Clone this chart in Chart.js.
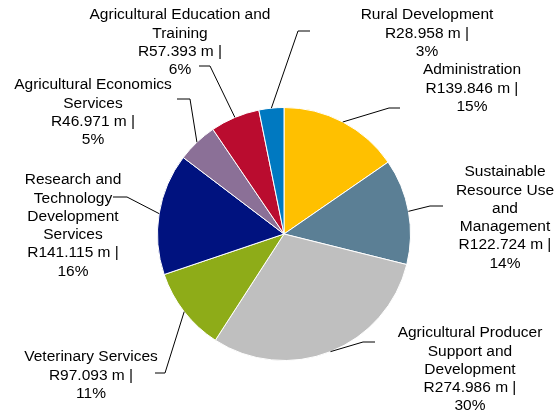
<!DOCTYPE html>
<html>
<head>
<meta charset="utf-8">
<script src="https://cdn.jsdelivr.net/npm/chart.js@4"></script>
<style>
  html, body { margin: 0; padding: 0; background: #fff; }
  #wrap { width: 560px; height: 414px; }
</style>
</head>
<body>
<div id="wrap"><canvas id="pieChart"></canvas></div>
<script>
// Programmes (label lines as shown in the picture)
const programmes = [
    ['Administration'],
    ['Sustainable', 'Resource Use', 'and', 'Management'],
    ['Agricultural Producer', 'Support and', 'Development'],
    ['Veterinary Services'],
    ['Research and', 'Technology', 'Development', 'Services'],
    ['Agricultural Economics', 'Services'],
    ['Agricultural Education and', 'Training'],
    ['Rural Development']
];
// Budget in R million
const amounts = [139.846, 122.724, 274.986, 97.093, 141.115, 46.971, 57.393, 28.958];
// Share as printed on the labels
const shares = [15, 14, 30, 11, 16, 5, 6, 3];

const sliceColors = ['#FFC000', '#5B7F95', '#BFBFBF', '#8EAC18', '#00127F', '#8B7097', '#BA0C2F', '#0079C1'];

// Where each label sits: text centre x, first line y, elbow of leader line, end of the short horizontal
const labelLayout = [
    { x: 472, y: 70,  elbow: [389, 108], end: 400 },
    { x: 505, y: 172, elbow: [430, 206], end: 443 },
    { x: 470, y: 333, elbow: [363, 342], end: 375 },
    { x: 91,  y: 357, elbow: [165, 373], end: 155 },
    { x: 73,  y: 180, elbow: [127, 197], end: 113 },
    { x: 93,  y: 85,  elbow: [190, 99],  end: 177 },
    { x: 180, y: 15,  elbow: [210, 66],  end: 199 },
    { x: 427, y: 15,  elbow: [298, 31],  end: 310 }
];

// Plugin casero para dibujar etiquetas con líneas guía
const outsideLabels = {
    id: 'outsideLabels',
    afterDraw(chart) {
        const ctx = chart.ctx;
        const arcs = chart.getDatasetMeta(0).data;
        ctx.save();
        ctx.font = '15.5px "Liberation Sans", Arial, sans-serif';
        ctx.fillStyle = '#000';
        ctx.strokeStyle = '#000';
        ctx.lineWidth = 1;
        ctx.textAlign = 'center';
        ctx.textBaseline = 'middle';
        arcs.forEach((arc, i) => {
            const p = arc.getProps(['x', 'y', 'startAngle', 'endAngle', 'outerRadius'], true);
            const mid = (p.startAngle + p.endAngle) / 2;
            const sx = p.x + Math.cos(mid) * p.outerRadius;
            const sy = p.y + Math.sin(mid) * p.outerRadius;
            const lay = labelLayout[i];
            ctx.beginPath();
            ctx.moveTo(sx, sy);
            ctx.lineTo(lay.elbow[0], lay.elbow[1]);
            ctx.lineTo(lay.end, lay.elbow[1]);
            ctx.stroke();

            const lines = programmes[i].concat(['R' + amounts[i].toFixed(3) + ' m |', shares[i] + '%']);
            lines.forEach((t, k) => {
                ctx.fillText(t, lay.x, lay.y + k * 18.3);
            });
        });
        ctx.restore();
    }
};

new Chart(document.getElementById('pieChart'), {
    type: 'pie',
    data: {
        labels: programmes.map(l => l.join(' ')),
        datasets: [{
            data: amounts,
            backgroundColor: sliceColors,
            borderColor: '#fff',
            borderWidth: 1
        }]
    },
    options: {
        responsive: true,
        maintainAspectRatio: false,
        animation: false,
        layout: {
            padding: { top: 107, bottom: 53, left: 157, right: 149 }
        },
        plugins: {
            legend: { display: false },
            tooltip: { enabled: false }
        }
    },
    plugins: [outsideLabels]
});
</script>
</body>
</html>
